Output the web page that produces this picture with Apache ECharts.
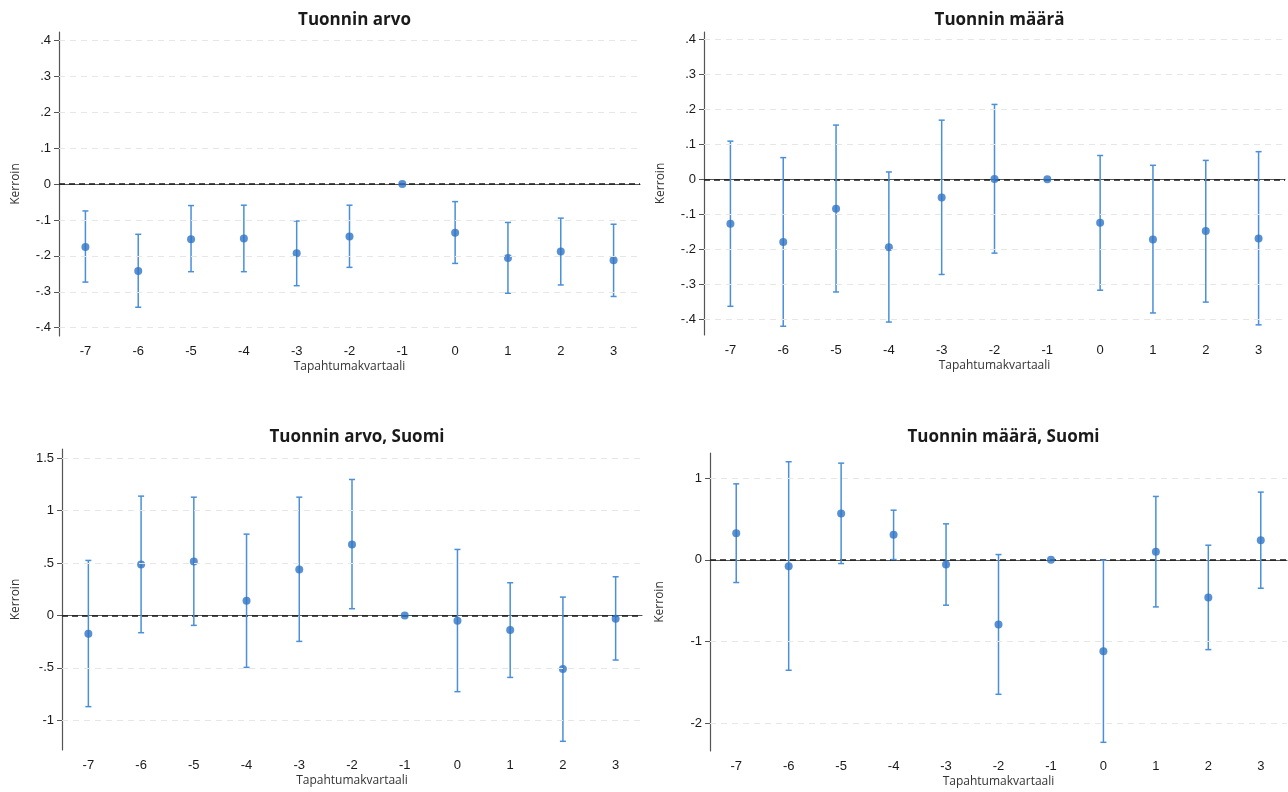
<!DOCTYPE html>
<html>
<head>
<meta charset="utf-8">
<script src="https://cdn.jsdelivr.net/npm/echarts@6/dist/echarts.min.js"></script>
<style>
html,body{margin:0;padding:0;background:#fff;}
#chart{width:1288px;height:792px;}
</style>
</head>
<body>
<div id="chart"></div>
<script>
// ---- data ----
const quarters = ['-7','-6','-5','-4','-3','-2','-1','0','1','2','3'];

const titles = ['Tuonnin arvo', 'Tuonnin määrä', 'Tuonnin arvo, Suomi', 'Tuonnin määrä, Suomi'];

const arvoCoef = [-0.175, -0.242, -0.154, -0.152, -0.193, -0.146, 0, -0.136, -0.206, -0.188, -0.212];
const arvoLo   = [-0.273, -0.343, -0.244, -0.244, -0.283, -0.232, 0, -0.221, -0.304, -0.281, -0.313];
const arvoHi   = [-0.075, -0.140, -0.060, -0.059, -0.103, -0.059, 0, -0.049, -0.107, -0.095, -0.112];

const maaraCoef = [-0.127, -0.179, -0.084, -0.194, -0.052, 0.001, 0, -0.124, -0.172, -0.148, -0.169];
const maaraLo   = [-0.363, -0.420, -0.322, -0.408, -0.272, -0.211, 0, -0.317, -0.382, -0.351, -0.416];
const maaraHi   = [ 0.109,  0.062,  0.155,  0.021,  0.169,  0.214, 0,  0.068,  0.040,  0.054,  0.079];

const arvoFiCoef = [-0.175, 0.487, 0.515, 0.140, 0.439, 0.677, 0, -0.051, -0.140, -0.512, -0.032];
const arvoFiLo   = [-0.871, -0.165, -0.095, -0.496, -0.248, 0.064, 0, -0.728, -0.592, -1.202, -0.426];
const arvoFiHi   = [ 0.525,  1.139,  1.129,  0.776,  1.129, 1.298, 0,  0.630,  0.312,  0.175,  0.369];

const maaraFiCoef = [0.326, -0.077, 0.567, 0.306, -0.057, -0.791, 0, -1.117, 0.098, -0.461, 0.240];
const maaraFiLo   = [-0.277, -1.349, -0.045, 0.004, -0.554, -1.643, 0, -2.230, -0.575, -1.097, -0.347];
const maaraFiHi   = [ 0.929,  1.199,  1.182, 0.607,  0.440,  0.065, 0, -0.004,  0.775,  0.179,  0.828];

const ticksTop = [-0.4, -0.3, -0.2, -0.1, 0, 0.1, 0.2, 0.3, 0.4];
const ticksArvoFi = [-1, -0.5, 0, 0.5, 1, 1.5];
const ticksMaaraFi = [-2, -1, 0, 1];

// ---- layout ----
const panels = [
  {coef: arvoCoef, lo: arvoLo, hi: arvoHi, ticks: ticksTop, min: -0.423, max: 0.423,
   grid: {left: 59, top: 32, width: 581, height: 304}, nameGap: 37, titleTop: 7},
  {coef: maaraCoef, lo: maaraLo, hi: maaraHi, ticks: ticksTop, min: -0.445, max: 0.421,
   grid: {left: 704, top: 32, width: 581, height: 303}, nameGap: 37, titleTop: 7},
  {coef: arvoFiCoef, lo: arvoFiLo, hi: arvoFiHi, ticks: ticksArvoFi, min: -1.285, max: 1.589,
   grid: {left: 62, top: 449, width: 580, height: 301}, nameGap: 40, titleTop: 424},
  {coef: maaraFiCoef, lo: maaraFiLo, hi: maaraFiHi, ticks: ticksMaaraFi, min: -2.336, max: 1.306,
   grid: {left: 710, top: 453, width: 577, height: 298}, nameGap: 44, titleTop: 424}
];

function stataFmt(v) {
  if (Math.abs(v) < 1e-9) return '0';
  let s = String(+v.toFixed(3));
  return s.replace(/^(-?)0\./, '$1.');
}

const barColor = '#4a8fd8';
const dotColor = '#2f74c6';
const axisColor = '#555';
const labelColor = '#1a1a1a';

const option = {
  animation: false,
  backgroundColor: '#fff',
  title: [], grid: [], xAxis: [], yAxis: [], series: []
};

panels.forEach((p, i) => {
  option.grid.push(Object.assign({containLabel: false}, p.grid));
  option.title.push({
    text: titles[i],
    left: p.grid.left + p.grid.width / 2,
    top: p.titleTop,
    textAlign: 'center',
    textStyle: {fontFamily: 'Open Sans', fontWeight: 'bold', fontSize: 17, color: '#1a1a1a'}
  });
  option.xAxis.push({
    type: 'category', gridIndex: i, data: quarters, boundaryGap: true,
    name: 'Tapahtumakvartaali', nameLocation: 'middle', nameGap: 25,
    nameTextStyle: {fontFamily: 'Open Sans', fontSize: 12, color: '#333'},
    axisLine: {lineStyle: {color: axisColor, width: 1.2}},
    axisTick: {alignWithLabel: true, length: 5, lineStyle: {color: axisColor}},
    axisLabel: {margin: 9, fontFamily: 'Liberation Sans', fontSize: 13, color: labelColor},
    splitLine: {show: false}
  });
  option.yAxis.push({
    type: 'value', gridIndex: i, min: p.min, max: p.max,
    name: 'Kerroin', nameLocation: 'middle', nameGap: p.nameGap,
    nameTextStyle: {fontFamily: 'Open Sans', fontSize: 12, color: '#333'},
    axisLine: {show: true, lineStyle: {color: axisColor, width: 1.2}},
    axisTick: {show: true, length: 5, customValues: p.ticks, lineStyle: {color: axisColor}},
    axisLabel: {margin: 8, customValues: p.ticks, fontFamily: 'Liberation Sans', fontSize: 13,
                color: labelColor, formatter: stataFmt},
    splitLine: {show: false}
  });
  // error bars
  option.series.push({
    type: 'custom', xAxisIndex: i, yAxisIndex: i, z: 3,
    data: quarters.map((q, k) => [k, p.lo[k], p.hi[k]]),
    renderItem: function (params, api) {
      const x = api.value(0);
      const lo = api.value(1), hi = api.value(2);
      if (lo === hi) return {type: 'group', children: []};
      const a = api.coord([x, lo]);
      const b = api.coord([x, hi]);
      const st = {stroke: barColor, lineWidth: 1.5};
      return {type: 'group', children: [
        {type: 'line', shape: {x1: a[0], y1: a[1], x2: b[0], y2: b[1]}, style: st},
        {type: 'line', shape: {x1: a[0] - 3, y1: a[1], x2: a[0] + 3, y2: a[1]}, style: st},
        {type: 'line', shape: {x1: b[0] - 3, y1: b[1], x2: b[0] + 3, y2: b[1]}, style: st}
      ]};
    }
  });
  // grid lines (at tick values)
  option.series.push({
    type: 'line', xAxisIndex: i, yAxisIndex: i, data: [], silent: true, z: 1,
    markLine: {
      silent: true, symbol: 'none', label: {show: false},
      lineStyle: {color: '#e6e6e6', type: [6, 5], width: 1},
      data: p.ticks.filter(t => t !== 0).map(t => ({yAxis: t}))
    }
  });
  // points + zero line
  option.series.push({
    type: 'scatter', xAxisIndex: i, yAxisIndex: i, z: 4,
    symbol: 'circle', symbolSize: 8,
    itemStyle: {color: dotColor},
    data: quarters.map((q, k) => [k, p.coef[k]]),
    markLine: {
      silent: true, symbol: 'none', label: {show: false}, z: 2,
      lineStyle: {color: '#1a1a1a', type: [6, 4], width: 1.5},
      data: [{yAxis: 0}]
    }
  });
});

const chart = echarts.init(document.getElementById('chart'), null, {renderer: 'canvas'});
chart.setOption(option);
</script>
</body>
</html>
